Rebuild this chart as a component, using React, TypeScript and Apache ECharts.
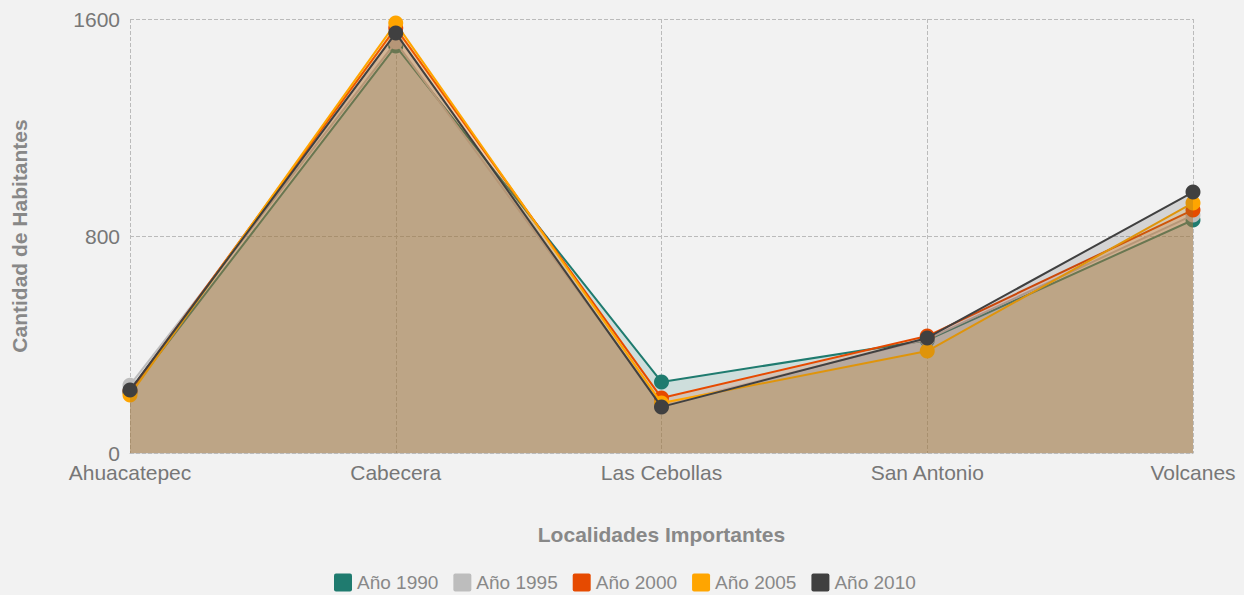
import React, { useEffect, useRef } from "react";
import * as echarts from "echarts";

const categories = ["Ahuacatepec", "Cabecera", "Las Cebollas", "San Antonio", "Volcanes"];
const seriesNames = ["Año 1990", "Año 1995", "Año 2000", "Año 2005", "Año 2010"];
const values1990 = [225, 1500, 262, 416, 859];
const values1995 = [250, 1515, 177, 420, 877];
const values2000 = [228, 1567, 203, 431, 896];
const values2005 = [214, 1585, 184, 376, 922];
const values2010 = [232, 1548, 170, 424, 962];
const colors = ["#1f7b6f", "#bdbdbd", "#e64a00", "#ffa500", "#404040"];
const yTicks = [0, 800, 1600];

export default function App() {
  const ref = useRef<HTMLDivElement>(null);
  useEffect(() => {
    if (!ref.current) return;
    const chart = echarts.init(ref.current, null, { renderer: "svg" });
    const all = [values1990, values1995, values2000, values2005, values2010];
    const font = "'Liberation Sans', Arial, sans-serif";
    chart.setOption({
      animation: false,
      backgroundColor: "#f2f2f2",
      color: colors,
      textStyle: { fontFamily: font },
      grid: { left: 130, right: 51, top: 19, bottom: 142, containLabel: false },
      legend: {
        bottom: -2,
        left: 329,
        itemWidth: 18,
        itemHeight: 18,
        itemGap: 15,
        icon: "path://M2,0 L16,0 Q18,0 18,2 L18,16 Q18,18 16,18 L2,18 Q0,18 0,16 L0,2 Q0,0 2,0 Z",
        textStyle: { color: "#888", fontSize: 19, fontFamily: font },
        data: seriesNames,
      },
      xAxis: {
        type: "category",
        data: categories,
        boundaryGap: false,
        name: "Localidades Importantes",
        nameLocation: "middle",
        nameGap: 71,
        nameTextStyle: { color: "#888", fontSize: 21, fontWeight: "bold", fontFamily: font },
        axisLine: { show: true, lineStyle: { color: "#bbb", type: "dashed" } },
        axisTick: { show: false },
        axisLabel: { color: "#777", fontSize: 21, margin: 9, fontFamily: font },
        splitLine: { show: true, lineStyle: { color: "#bbb", type: "dashed" } },
      },
      yAxis: {
        type: "value",
        min: yTicks[0],
        max: yTicks[yTicks.length - 1],
        interval: 800,
        name: "Cantidad de Habitantes",
        nameLocation: "middle",
        nameGap: 100,
        nameTextStyle: { color: "#888", fontSize: 21, fontWeight: "bold", fontFamily: font },
        axisLine: { show: false },
        axisTick: { show: false },
        axisLabel: { color: "#777", fontSize: 21, margin: 10, fontFamily: font, formatter: (v: number) => String(v) },
        splitLine: { show: true, lineStyle: { color: "#bbb", type: "dashed" } },
      },
      series: seriesNames.map((name, i) => ({
        name,
        type: "line",
        data: all[i],
        symbol: "circle",
        symbolSize: 15,
        showSymbol: true,
        lineStyle: { width: 2, color: colors[i] },
        itemStyle: { color: colors[i] },
        areaStyle: { color: colors[i], opacity: 0.17 },
        z: 2 + i,
      })),
    });
    return () => chart.dispose();
  }, []);
  return <div ref={ref} style={{ width: 1244, height: 595, position: "absolute", left: 0, top: 0 }} />;
}
